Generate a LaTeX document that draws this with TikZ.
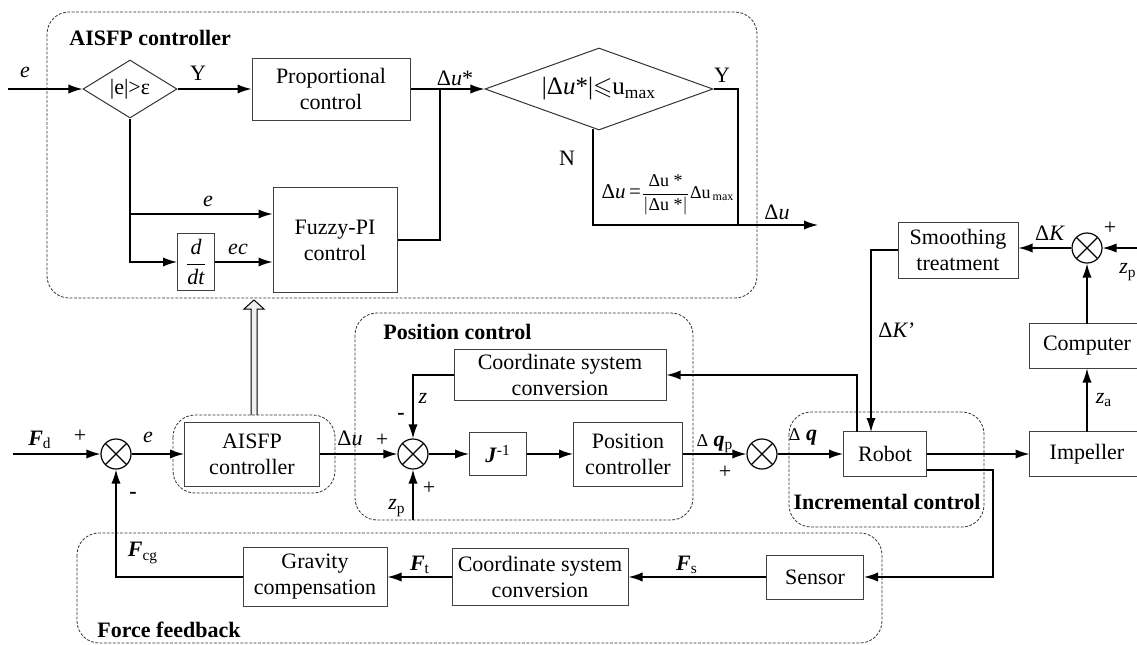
\documentclass[tikz,border=0pt]{standalone}
\usepackage{amsmath,amssymb}
\usepackage{fontspec}
\setmainfont{Liberation Serif}
\usetikzlibrary{arrows.meta,shapes.geometric}

\begin{document}
\begin{tikzpicture}[
    x=0.5pt, y=-0.5pt,
    font=\fontsize{11}{13}\selectfont,
    line width=0.7pt,
    >={Latex[length=7pt,width=4.6pt]},
    block/.style={draw=black!75, line width=0.5pt, fill=white, align=center, inner sep=1pt},
    dec/.style={draw=black!80, line width=0.5pt, diamond, inner sep=0pt},
    sum/.style={draw, circle, line width=0.6pt, minimum size=15pt, inner sep=0pt,
      path picture={\draw[line width=0.6pt]
        (path picture bounding box.north west) -- (path picture bounding box.south east)
        (path picture bounding box.south west) -- (path picture bounding box.north east);}},
    region/.style={draw=black!80, line width=0.4pt, dash pattern=on 1.4pt off 0.8pt, rounded corners=11pt},
    title/.style={font=\fontsize{11}{13}\selectfont\bfseries},
    lbl/.style={inner sep=1pt}
  ]
  \useasboundingbox (0,0) rectangle (1137,644);
  \clip (0,0) rectangle (1137,644);

  \draw[region] (47,12) rectangle (757,298);
  \node[title, anchor=west] (taisfp) at (62,38) {AISFP controller};
  \node[dec, aspect=1.62, minimum width=47pt, minimum height=29pt] (dia1) at (130,89) {|e|>ε};
  \node[block, minimum width=79pt, minimum height=31pt] (prop) at (331,89) {Proportional\\control};
  \node[dec, aspect=2.78, minimum width=114pt, minimum height=41pt, font=\fontsize{12.5}{14}\selectfont]
    (dia2) at (599,89) {|Δ\textit{u}*|$\leqslant$u\textsubscript{max}};
  \node[block, minimum width=62pt, minimum height=52.5pt] (fuzzy) at (335,240) {Fuzzy-PI\\control};
  \node[block, minimum width=18.5pt, minimum height=28.5pt, inner sep=0pt] (ddt) at (196,262)
    {$\dfrac{\text{\itshape d}}{\text{\itshape dt}}$};

  \node[lbl] (le0) at (25,72) {\textit{e}};
  \node[lbl] (ly1) at (198,73) {Y};
  \node[lbl] (ldus) at (455,78) {Δ\textit{u}*};
  \node[lbl] (ly2) at (722,75) {Y};
  \node[lbl] (ln) at (567,158) {N};
  \node[lbl, font=\fontsize{9}{11}\selectfont] (lform) at (668,195)
    {{\fontsize{10.5}{12}\selectfont Δ\textit{u}\,=}$\dfrac{\text{Δu *}}{|\text{Δu *}|}$Δu\textsubscript{\,max}};
  \node[lbl] (ldu1) at (777,212) {Δ\textit{u}};
  \node[lbl] (le1) at (208,201) {\textit{e}};
  \node[lbl] (lec) at (238,249) {\textit{ec}};

  \coordinate (ein) at (8,89);
  \coordinate (j1) at (440,89);
  \coordinate (j2) at (738,225);
  \coordinate (j3) at (130,214);
  \coordinate (duout) at (818,225);
  \draw[->] (ein) -- (dia1);
  \draw[->] (dia1) -- (prop);
  \draw[->] (prop) -- (dia2);
  \draw (fuzzy.east) -| (j1);
  \draw (dia2.east) -| (j2);
  \draw[->] ([xshift=-3pt,yshift=1pt]dia2.south) |- (duout);
  \draw[->] (dia1.south) |- (ddt.west);
  \draw[->] (j3) -- (j3 -| fuzzy.west);
  \draw[->] (ddt) -- (ddt -| fuzzy.west);

  \draw[line width=0.5pt, fill=gray!12] (251,415) -- (251,309) -- (244,309) -- (254,300)
    -- (264,309) -- (257,309) -- (257,415);

  \draw[region] (173,415) rectangle (335,493);
  \draw[region] (355,313) rectangle (693,520);
  \node[title, anchor=west] (tpos) at (376,332) {Position control};
  \draw[region] (789,412) rectangle (984,527);
  \node[title] (tinc) at (887,502) {Incremental control};
  \draw[region] (77,533) rectangle (882,643);
  \node[title, anchor=west] (tforce) at (90,630) {Force feedback};

  \node[sum] (s1) at (116,454) {};
  \node[block, minimum width=67.5pt, minimum height=32pt] (aisfp) at (252,454) {AISFP\\controller};
  \node[sum] (s4) at (413,454) {};
  \node[block, minimum width=106pt, minimum height=25.5pt] (csc1) at (560,375) {Coordinate system\\conversion};
  \node[block, minimum width=28.5pt, minimum height=21.5pt] (jinv) at (498,454) {\textbf{\textit{J}}\textsuperscript{-1}};
  \node[block, minimum width=54.5pt, minimum height=32pt] (posc) at (628,454) {Position\\controller};
  \node[sum] (s2) at (762,454) {};
  \node[block, minimum width=41.5pt, minimum height=22.5pt] (robot) at (885,454) {Robot};
  \node[block, draw=none, minimum width=57pt, minimum height=22pt] (imp) at (1087,454) {Impeller};
  \draw[draw=black!75, line width=0.5pt] (imp.north west) rectangle ([xshift=20pt]imp.south east);
  \node[block, draw=none, minimum width=57pt, minimum height=22pt] (comp) at (1087,346) {Computer};
  \draw[draw=black!75, line width=0.5pt] (comp.north west) rectangle ([xshift=20pt]comp.south east);
  \node[sum] (s3) at (1087,248) {};
  \node[block, minimum width=60pt, minimum height=28pt] (smooth) at (958,250) {Smoothing\\treatment};
  \node[block, minimum width=48.5pt, minimum height=22pt] (sensor) at (815,577) {Sensor};
  \node[block, minimum width=88pt, minimum height=28.5pt] (csc2) at (540,577) {Coordinate system\\conversion};
  \node[block, minimum width=72pt, minimum height=29.5pt] (grav) at (315,577) {Gravity\\compensation};

  \coordinate (fin) at (13,454);
  \coordinate (zpin) at (413,520);
  \coordinate (zpin2) at (1140,248);
  \coordinate (rk) at (871,432);
  \coordinate (rc) at (857,432);
  \coordinate (rs) at (927,470);
  \coordinate (rsx) at (993,470);
  \draw[->] (fin) -- (s1);
  \draw[->] (s1) -- (aisfp);
  \draw[->] (aisfp) -- (s4);
  \draw[->] (csc1.west) -| (s4);
  \draw[->] (zpin) -- (s4);
  \draw[->] (s4) -- (jinv);
  \draw[->] (jinv) -- (posc);
  \draw[->] (posc) -- (s2);
  \draw[->] (s2) -- (robot);
  \draw[->] (robot) -- (imp);
  \draw[->] (imp) -- (comp);
  \draw[->] (comp) -- (s3);
  \draw[->] (zpin2) -- (s3);
  \draw[->] (s3) -- (s3 -| smooth.east);
  \draw[->] (smooth.west) -| (rk);
  \draw[->] (rc) |- (csc1.east);
  \draw[->] (rs) -- (rsx) |- (sensor.east);
  \draw[->] (sensor) -- (csc2);
  \draw[->] (csc2) -- (grav);
  \draw[->] (grav.west) -| (s1);

  \node[lbl] (lfd) at (40,440) {\textbf{\textit{F}}\textsubscript{d}};
  \node[lbl] (lp1) at (80,436) {+};
  \node[lbl] (le2) at (148,437) {\textit{e}};
  \node[lbl] (lm1) at (133,495) {\textbf{-}};
  \node[lbl] (lfcg) at (143,553) {\textbf{\textit{F}}\textsubscript{cg}};
  \node[lbl] (ldu2) at (350,438) {Δ\textit{u}};
  \node[lbl] (lp2) at (382,440) {+};
  \node[lbl] (lz) at (423,398) {\textit{z}};
  \node[lbl] (lm2) at (401,416) {\textbf{-}};
  \node[lbl] (lzp1) at (397,508) {\textit{z}\textsubscript{p}};
  \node[lbl] (lp3) at (429,488) {+};
  \node[lbl] (ldqp) at (715,444) {{\small Δ} \textbf{\textit{q}}\textsubscript{p}};
  \node[lbl] (lp4) at (725,472) {+};
  \node[lbl] (ldq) at (803,437) {{\small Δ} \textbf{\textit{q}}};
  \node[lbl] (lza) at (1104,400) {\textit{z}\textsubscript{a}};
  \node[lbl] (lp5) at (1110,228) {+};
  \node[lbl] (lzp2) at (1128,272) {\textit{z}\textsubscript{p}};
  \node[lbl] (ldk) at (1050,233) {Δ\textit{K}};
  \node[lbl] (ldk2) at (897,330) {Δ\textit{K}’};
  \node[lbl] (lft) at (420,565) {\textbf{\textit{F}}\textsubscript{t}};
  \node[lbl] (lfs) at (687,565) {\textbf{\textit{F}}\textsubscript{s}};
\end{tikzpicture}
\end{document}
